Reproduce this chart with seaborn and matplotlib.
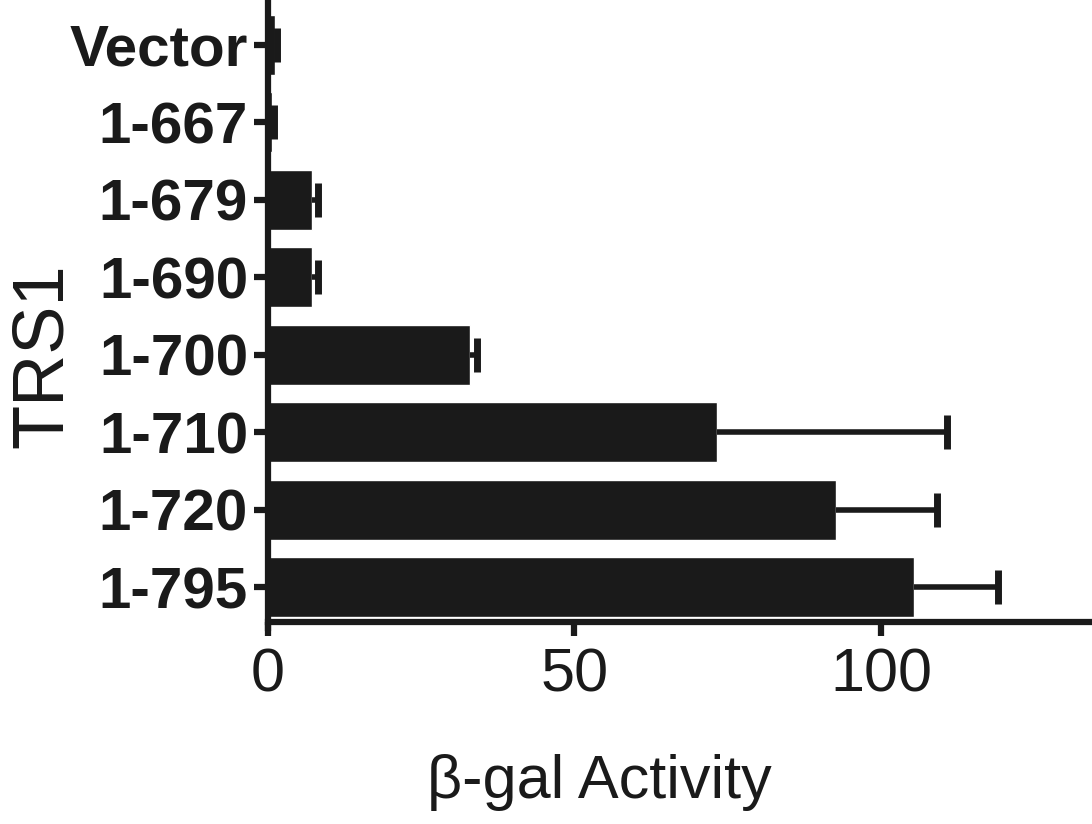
import matplotlib
matplotlib.use("Agg")
import matplotlib.pyplot as plt
import numpy as np
import pandas as pd
import seaborn as sns

constructs = ["Vector", "1-667", "1-679", "1-690", "1-700", "1-710", "1-720", "1-795"]
activity = [1.2, 0.8, 7.3, 7.2, 33.0, 73.2, 92.7, 105.3]
activity_err = [0.3, 0.2, 1.0, 1.0, 1.1, 37.5, 16.4, 13.8]

sns.set_style("ticks")
plt.rcParams["font.family"] = ["Liberation Sans", "DejaVu Sans"]
ink = "#1a1a1a"
plt.rcParams["text.color"] = ink
plt.rcParams["xtick.color"] = ink
plt.rcParams["ytick.color"] = ink
plt.rcParams["axes.labelcolor"] = ink

df = pd.DataFrame({"TRS1": constructs, "activity": activity})

fig = plt.figure(figsize=(10.92, 8.24), dpi=100)
ax = fig.add_axes([0.245, 0.245, 0.753, 0.743])

sns.barplot(data=df, x="activity", y="TRS1", orient="h", color=ink,
            saturation=1, width=0.78, errorbar=None, ax=ax)

# one-sided error bars (upper only) with a cap at the far end
ypos = np.arange(len(constructs))
upper = np.array(activity) + np.array(activity_err)
ax.hlines(ypos, activity, upper, color=ink, linewidth=4)
ax.plot(upper, ypos, linestyle="none", marker="|", markersize=24,
        markeredgewidth=5, color=ink)

ax.set_xlim(0, 134)
ax.set_ylim(7.45, -0.45)
ax.set_xticks([0, 50, 100])
ax.set_xticklabels(["0", "50", "100"], fontsize=44)
ax.set_yticks(ypos)
ax.set_yticklabels(constructs, fontsize=42, fontweight="bold")

for side in ["top", "right"]:
    ax.spines[side].set_visible(False)
for side in ["left", "bottom"]:
    ax.spines[side].set_linewidth(4.5)
    ax.spines[side].set_color(ink)
ax.spines["left"].set_bounds(-0.6, 7.52)

ax.tick_params(axis="both", length=10, width=4.5, color=ink, pad=4)
ax.tick_params(axis="x", pad=8)

ax.set_xlabel("β-gal Activity", fontsize=44)
ax.xaxis.set_label_coords(0.404, -0.215)
ax.set_ylabel("TRS1", fontsize=52)
ax.yaxis.set_label_coords(-0.232, 0.435)

fig.savefig("out.png", dpi=100)
